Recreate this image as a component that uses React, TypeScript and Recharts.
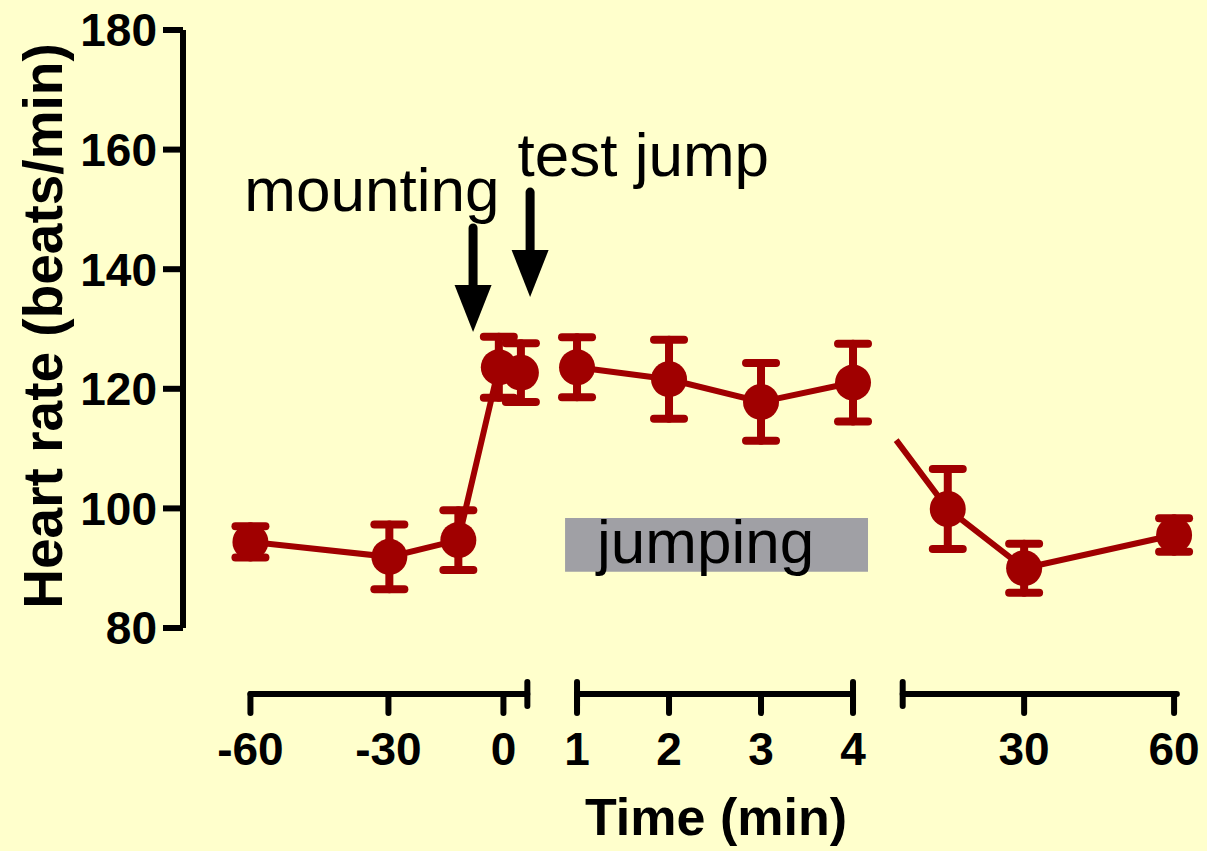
import React from 'react';
import {
  ComposedChart,
  Line,
  XAxis,
  YAxis,
  ErrorBar,
  ReferenceLine,
  ReferenceArea,
  ReferenceDot,
} from 'recharts';

const FONT = '"Liberation Sans", Arial, Helvetica, sans-serif';
const RED = '#a00000';

// time points (min) and where they sit on the broken x axis
const timeLabels = ['-60', '-30', 'mounting', '0', 'test jump', '1', '2', '3', '4', '15', '30', '60'];
const axisPos = [-2.55, -1.04, -0.29, 0.15, 0.39, 1, 2, 3, 4, 5.03, 5.86, 7.49];
const heartRate = [94.4, 91.9, 94.7, 123.6, 122.7, 123.6, 121.6, 117.8, 121.05, 99.9, 90.0, 95.55];
const sem = [2.6, 5.4, 5.0, 5.1, 4.9, 5.0, 6.6, 6.5, 6.5, 6.7, 4.1, 2.8];
const segmentOf = [0, 0, 0, 0, 0, 1, 1, 1, 1, 2, 2, 2];

// axis
const yTicks = [80, 100, 120, 140, 160, 180];
const tickPos = [-2.55, -1.05, 0.2, 1, 2, 3, 4, 5.86, 7.49];
const tickLabels = ['-60', '-30', '0', '1', '2', '3', '4', '30', '60'];
const axisSegments = [
  [-2.55, 0.46],
  [1, 4],
  [4.54, 7.52],
];

const points = axisPos.map((pos, i) => ({
  time: timeLabels[i],
  pos,
  hr: heartRate[i],
  sem: sem[i],
  seg: segmentOf[i],
}));
const segData = [0, 1, 2].map((s) => points.filter((p) => p.seg === s));
const bridge = [points[8], points[9]];

const TimeTick = (props: any) => {
  const { x, y, index } = props;
  return (
    <g>
      <line x1={x} x2={x} y1={y + 66} y2={y + 85} stroke="#000" strokeWidth={6} strokeLinecap="round" />
      <text x={x} y={y + 137} textAnchor="middle" fill="#000" fontSize={46} fontWeight={700} fontFamily={FONT}>
        {tickLabels[index]}
      </text>
    </g>
  );
};

const AxisSegment = (props: any) => {
  const { x1, x2, y1, breakLeft, breakRight } = props;
  const y = y1 + 66;
  return (
    <g>
      <line x1={x1} x2={x2} y1={y} y2={y} stroke="#000" strokeWidth={6} strokeLinecap="round" />
      {breakLeft && (
        <line x1={x1} x2={x1} y1={y - 12} y2={y + 12} stroke="#000" strokeWidth={6} strokeLinecap="round" />
      )}
      {breakRight && (
        <line x1={x2} x2={x2} y1={y - 12} y2={y + 12} stroke="#000" strokeWidth={6} strokeLinecap="round" />
      )}
    </g>
  );
};

const Arrow = (props: any) => {
  const { x1, y1, y2 } = props;
  const headLen = 47;
  const half = 18.5;
  return (
    <g>
      <line x1={x1} x2={x1} y1={y1} y2={y2 - headLen + 2} stroke="#000" strokeWidth={9} strokeLinecap="round" />
      <polygon points={`${x1 - half},${y2 - headLen} ${x1 + half},${y2 - headLen} ${x1},${y2}`} fill="#000" />
    </g>
  );
};

const note = (text: string) => (props: any) => (
  <text x={props.cx} y={props.cy} textAnchor="middle" fill="#000" fontSize={62} fontFamily={FONT}>
    {text}
  </text>
);

export default function App() {
  return (
    <div style={{ position: 'absolute', left: 0, top: 0, width: 1207, height: 851, background: '#ffffcc' }}>
      <ComposedChart width={1207} height={851} margin={{ top: 30, right: 17, bottom: 0, left: 0 }}>
        <XAxis
          type="number"
          dataKey="pos"
          domain={[-3.283, 7.663]}
          ticks={tickPos}
          interval={0}
          height={223}
          axisLine={false}
          tickLine={false}
          tickSize={0}
          tickMargin={0}
          tick={(p: any) => <TimeTick {...p} />}
          label={(p: any) => (
            <text x={716} y={835} textAnchor="middle" fill="#000" fontSize={52} fontWeight={700} fontFamily={FONT}>
              Time (min)
            </text>
          )}
        />
        <YAxis
          type="number"
          domain={[80, 180]}
          ticks={yTicks}
          width={183}
          tickSize={20}
          tickMargin={6}
          axisLine={{ stroke: '#000', strokeWidth: 6 }}
          tickLine={{ stroke: '#000', strokeWidth: 6 }}
          tick={{ fill: '#000', fontSize: 46, fontWeight: 700, fontFamily: FONT }}
          label={(p: any) => (
            <text
              transform="translate(62, 326) rotate(-90)"
              textAnchor="middle"
              fill="#000"
              fontSize={55}
              fontWeight={700}
              fontFamily={FONT}
            >
              Heart rate (beats/min)
            </text>
          )}
        />

        {axisSegments.map(([a, b], i) => (
          <ReferenceLine
            key={`seg${i}`}
            ifOverflow="visible"
            segment={[
              { x: a, y: 80 },
              { x: b, y: 80 },
            ]}
            shape={(p: any) => <AxisSegment {...p} breakLeft={i > 0} breakRight={i < 2} />}
          />
        ))}

        <ReferenceArea
          x1={0.87}
          x2={4.163}
          y1={89.4}
          y2={98.4}
          fill="#a0a0a5"
          fillOpacity={1}
          stroke="none"
          label={(p: any) => (
            <text x={p.viewBox.x + 32} y={p.viewBox.y + 45} fill="#000" fontSize={62} fontFamily={FONT}>
              jumping
            </text>
          )}
        />

        <ReferenceLine
          ifOverflow="visible"
          segment={[
            { x: -0.13, y: 146.9 },
            { x: -0.13, y: 129.5 },
          ]}
          shape={(p: any) => <Arrow {...p} />}
        />
        <ReferenceLine
          ifOverflow="visible"
          segment={[
            { x: 0.49, y: 152.9 },
            { x: 0.49, y: 135.35 },
          ]}
          shape={(p: any) => <Arrow {...p} />}
        />
        <ReferenceDot x={-1.23} y={149.7} r={0} shape={note('mounting')} />
        <ReferenceDot x={1.72} y={155.6} r={0} shape={note('test jump')} />

        <Line
          data={bridge}
          dataKey="hr"
          stroke={RED}
          strokeWidth={6}
          strokeDasharray="0 72 200"
          dot={false}
          activeDot={false}
          isAnimationActive={false}
        />
        {segData.map((d, i) => (
          <Line
            key={`line${i}`}
            data={d}
            dataKey="hr"
            stroke={RED}
            strokeWidth={6}
            dot={{ r: 18, fill: RED, stroke: RED, strokeWidth: 0 }}
            activeDot={false}
            isAnimationActive={false}
          >
            <ErrorBar dataKey="sem" direction="y" width={15} stroke={RED} strokeWidth={8} strokeLinecap="round" />
          </Line>
        ))}
      </ComposedChart>
    </div>
  );
}
